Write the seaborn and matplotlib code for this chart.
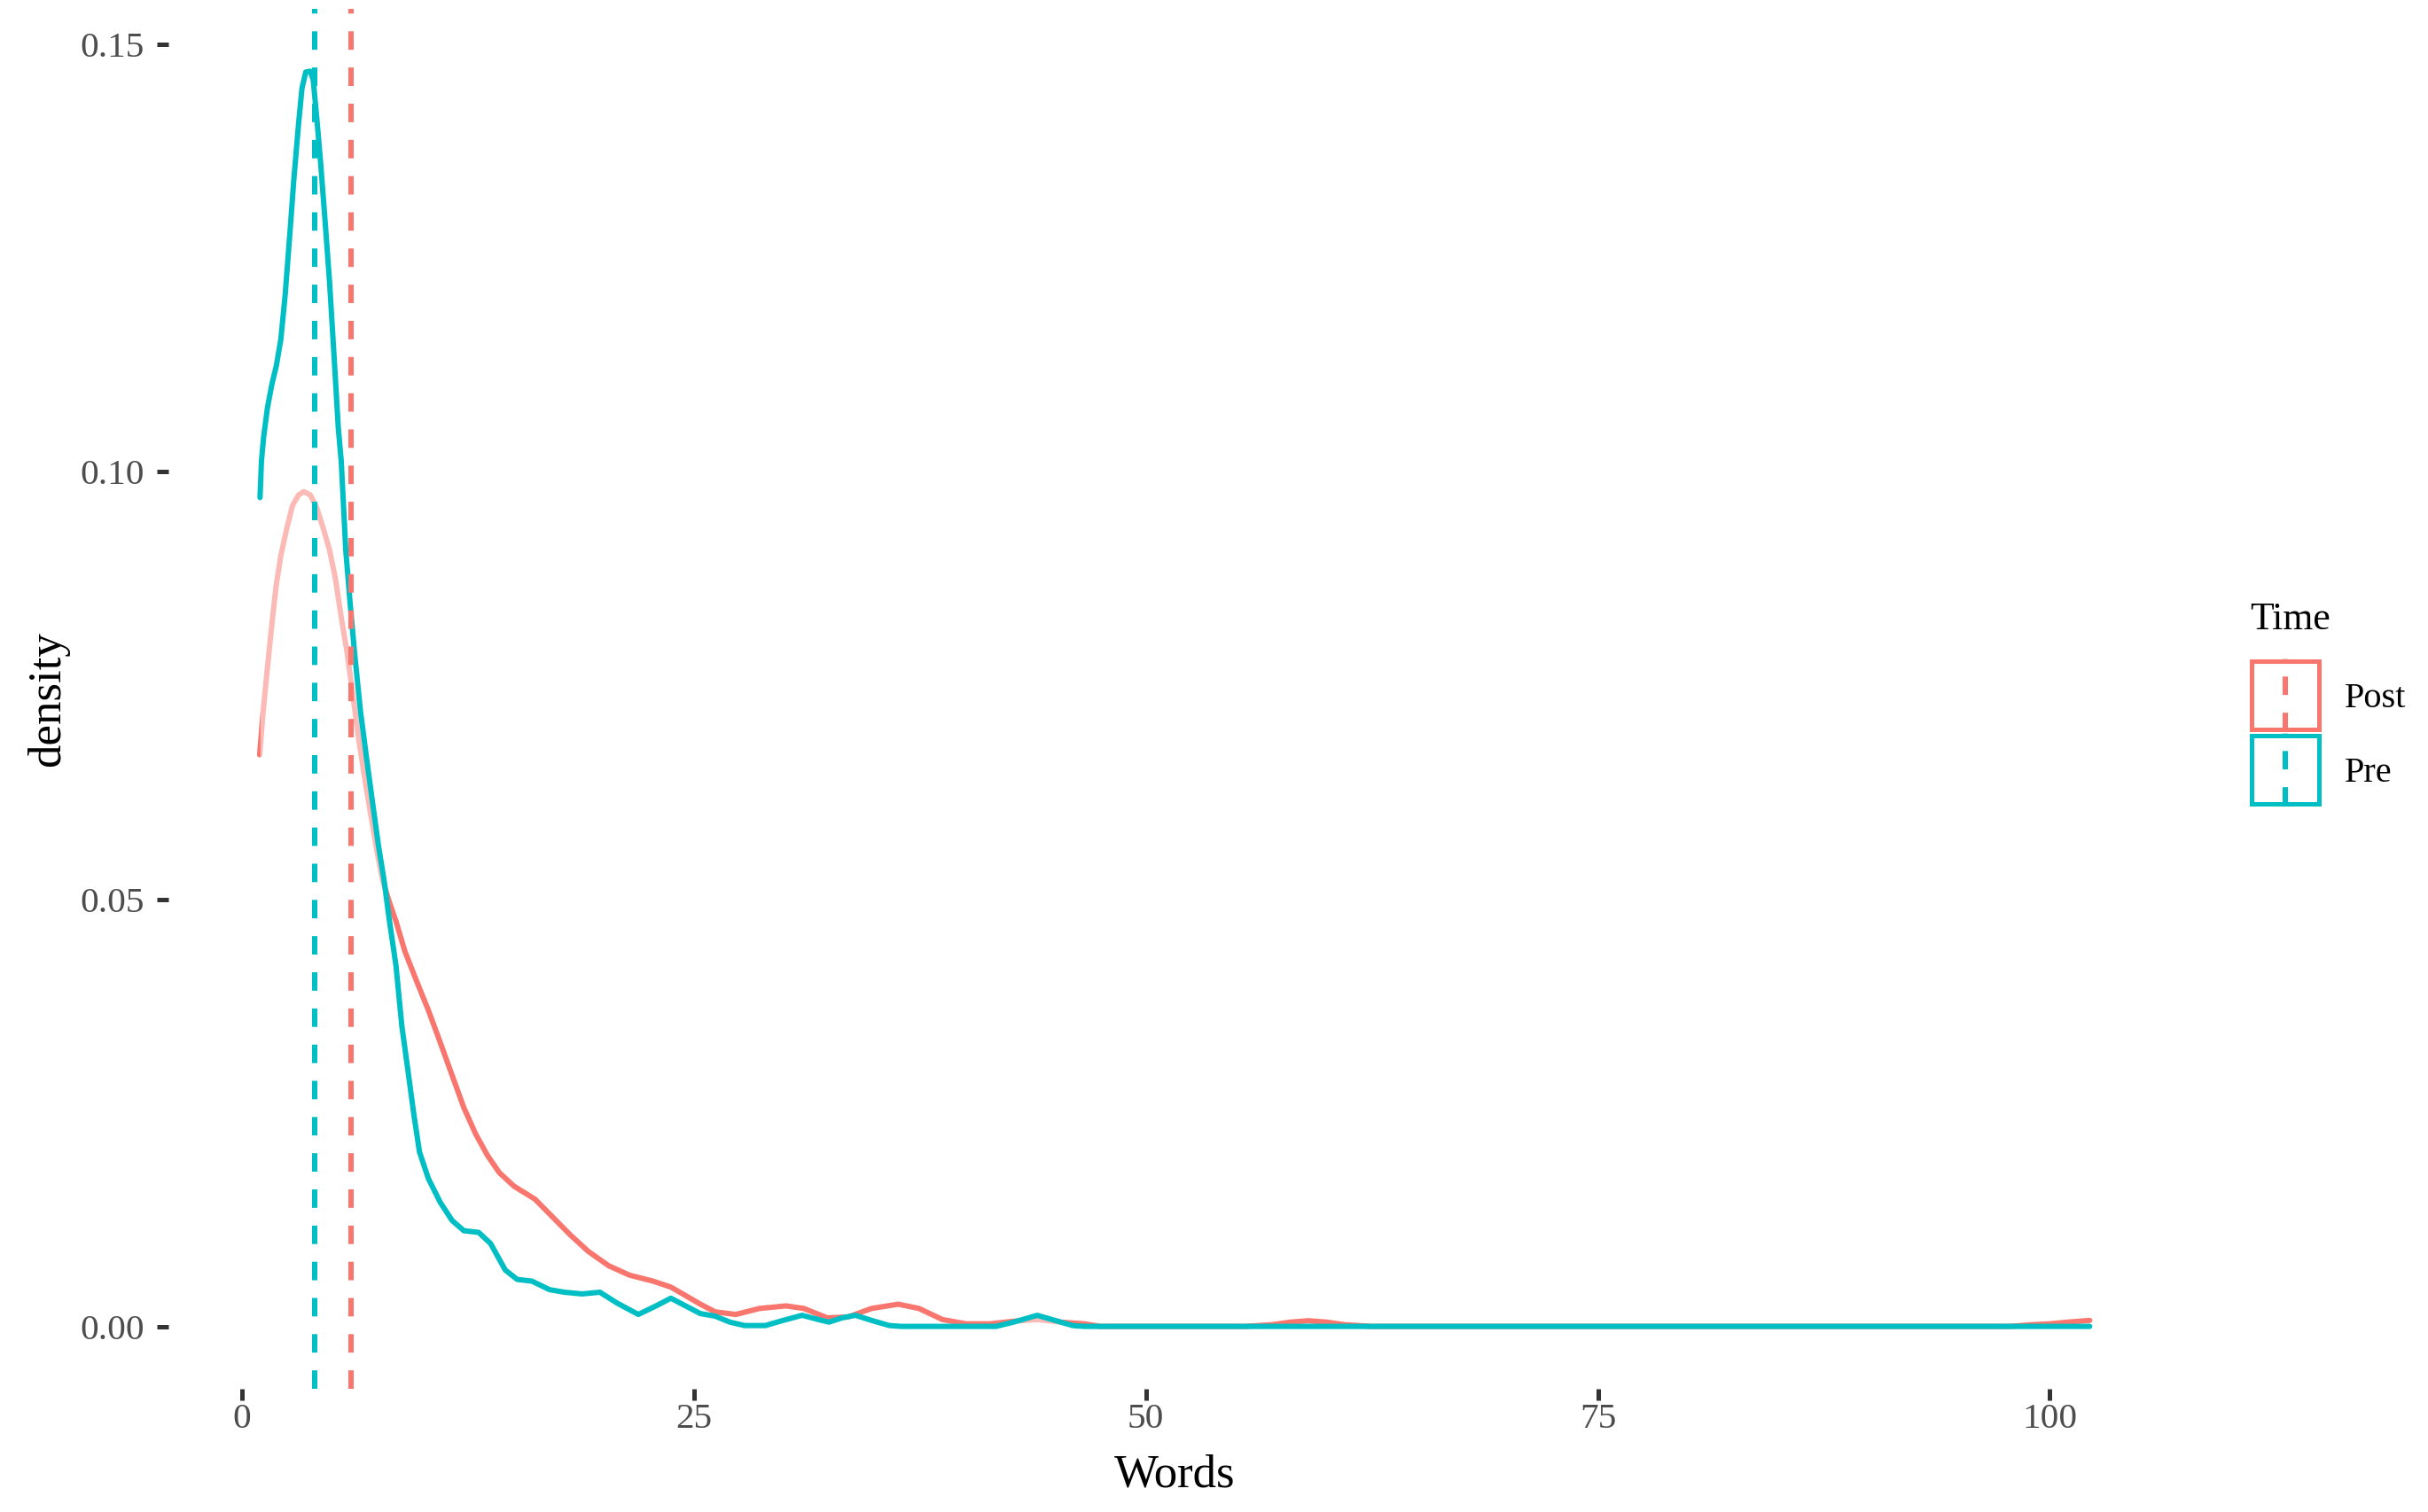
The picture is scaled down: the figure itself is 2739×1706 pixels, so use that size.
import numpy as np
import pandas as pd
import matplotlib
matplotlib.use("Agg")
import matplotlib.pyplot as plt
import seaborn as sns
from matplotlib.patches import Rectangle
from matplotlib.lines import Line2D

# ---------------- data ----------------
post_words = [1.0, 1.19, 1.43, 1.68, 1.92, 2.17, 2.49, 2.82, 3.15, 3.44, 3.80, 4.16, 4.53,
              4.86, 5.19, 5.51, 5.84, 6.17, 6.50, 6.82, 7.15, 7.48, 7.80, 8.21, 8.54, 9.03,
              9.68, 10.33, 10.99, 11.64, 12.29, 12.95, 13.60, 14.25, 15.07, 16.22, 17.20,
              18.18, 19.16, 20.30, 21.45, 22.75, 23.74, 24.72, 25.37, 26.19, 27.33, 28.64,
              30.11, 31.09, 32.39, 33.54, 34.84, 36.31, 37.46, 38.76, 40.07, 41.38, 42.69,
              44.0, 45.3, 46.61, 47.5, 55.5, 57.0, 58.0, 59.0, 60.0, 61.0, 62.5, 97.8,
              99.0, 100.0, 101.0, 102.2]
post_density = [0.0669, 0.0719, 0.0771, 0.0823, 0.0868, 0.0902, 0.0933, 0.0961, 0.0973,
                0.0977, 0.0973, 0.0958, 0.0933, 0.0909, 0.0875, 0.0830, 0.0788, 0.0736,
                0.0684, 0.0640, 0.0598, 0.0557, 0.0522, 0.0494, 0.0474, 0.0439, 0.0404,
                0.0370, 0.0332, 0.0294, 0.0256, 0.0225, 0.0200, 0.0180, 0.0164, 0.0149,
                0.0128, 0.0107, 0.0088, 0.0071, 0.0060, 0.0053, 0.0046, 0.0034, 0.0026,
                0.0017, 0.0014, 0.0021, 0.0024, 0.0021, 0.0010, 0.0011, 0.0021, 0.0026,
                0.0021, 0.0008, 0.0003, 0.0003, 0.0006, 0.0008, 0.0005, 0.0003, 0.0,
                0.0, 0.0002, 0.0005, 0.00066, 0.0005, 0.0002, 0.0, 0.0, 0.0002, 0.0003,
                0.0005, 0.0007]

pre_words = [1.02, 1.1, 1.22, 1.43, 1.68, 1.92, 2.17, 2.41, 2.66, 2.90, 3.15, 3.34, 3.55,
             3.80, 3.96, 4.16, 4.37, 4.62, 4.86, 5.11, 5.35, 5.51, 5.76, 6.00, 6.25, 6.58,
             6.90, 7.23, 7.56, 7.88, 8.18, 8.54, 8.86, 9.19, 9.52, 9.84, 10.33, 10.99,
             11.64, 12.29, 13.11, 13.77, 14.58, 15.24, 16.05, 17.03, 17.85, 18.83, 19.81,
             20.79, 21.94, 22.92, 23.74, 24.55, 25.37, 26.19, 27.00, 27.82, 28.96, 29.94,
             31.00, 31.90, 32.48, 33.21, 33.95, 34.84, 35.82, 36.48, 41.71, 42.69, 44.0,
             44.98, 45.96, 46.6, 102.2]
pre_density = [0.0970, 0.1013, 0.1041, 0.1075, 0.1103, 0.1124, 0.1155, 0.1207, 0.1276,
               0.1345, 0.1407, 0.1449, 0.1468, 0.1469, 0.1459, 0.1414, 0.1362, 0.1293,
               0.1224, 0.1137, 0.1051, 0.1013, 0.0909, 0.0847, 0.0788, 0.0719, 0.0667,
               0.0615, 0.0564, 0.0522, 0.0474, 0.0422, 0.0352, 0.0301, 0.0249, 0.0204,
               0.0173, 0.0145, 0.0124, 0.0112, 0.0110, 0.0097, 0.0066, 0.0055, 0.0053,
               0.0043, 0.0040, 0.0038, 0.0040, 0.0027, 0.0014, 0.0024, 0.0033, 0.0024,
               0.0015, 0.0012, 0.0005, 0.0001, 0.0001, 0.0007, 0.0013, 0.0008, 0.0005,
               0.0010, 0.0013, 0.0007, 0.0001, 0.0, 0.0, 0.0005, 0.0013, 0.0007, 0.0001,
               0.0, 0.0]

groups = ["Post", "Pre"]
group_means = [6.03, 4.02]
colors = {"Post": "#F8766D", "Pre": "#00BFC4"}
x_ticks = [0, 25, 50, 75, 100]
y_ticks = [0.00, 0.05, 0.10, 0.15]
y_tick_labels = ["0.00", "0.05", "0.10", "0.15"]

post_df = pd.DataFrame({"Words": post_words, "density": post_density, "Time": "Post"})
pre_df = pd.DataFrame({"Words": pre_words, "density": pre_density, "Time": "Pre"})

# ---------------- style ----------------
sns.set_theme(style="white")
plt.rcParams["font.family"] = ["Liberation Serif", "DejaVu Serif"]
plt.rcParams["lines.scale_dashes"] = False

W, H, DPI = 2739, 1706, 300
fig = plt.figure(figsize=(W / DPI, H / DPI), dpi=DPI)
fig.patch.set_facecolor("white")

def fx(px):
    return px / W

def fy(py):
    return 1 - py / H

ax = fig.add_axes([fx(189.7), fy(1567.4), fx(2460.6) - fx(189.7), fy(9.5) - fy(1567.4)])
ax.set_facecolor("white")

LW = 1.45
DASH = (0, (5.0, 4.8))

# Post: white semi-transparent fill, then line
ax.fill_between(post_df["Words"], post_df["density"], 0, color="white", alpha=0.5,
                lw=0, zorder=1)
sns.lineplot(data=post_df, x="Words", y="density", color=colors["Post"], lw=LW,
             sort=False, estimator=None, ax=ax, legend=False, zorder=2)
# Pre: fill (washes the Post line beneath it), then line
ax.fill_between(pre_df["Words"], pre_df["density"], 0, color="white", alpha=0.5,
                lw=0, zorder=3)
sns.lineplot(data=pre_df, x="Words", y="density", color=colors["Pre"], lw=LW,
             sort=False, estimator=None, ax=ax, legend=False, zorder=4)

for g, m in zip(groups, group_means):
    ax.axvline(m, color=colors[g], lw=LW, linestyle=DASH, zorder=5)

# limits with ggplot-like 5% expansion
all_x = np.array(post_words + pre_words)
all_y = np.array(post_density + pre_density)
xr = all_x.max() - all_x.min()
ax.set_xlim(all_x.min() - 0.05 * xr, all_x.max() + 0.05 * xr)
yr = all_y.max() - 0.0
ax.set_ylim(0 - 0.05 * yr, all_y.max() + 0.05 * yr)

ax.set_xticks(x_ticks)
ax.set_xticklabels([str(t) for t in x_ticks])
ax.set_yticks(y_ticks)
ax.set_yticklabels(y_tick_labels)
for s in ax.spines.values():
    s.set_visible(False)
ax.grid(False)
ax.tick_params(axis="both", which="major", length=3.1, width=1.2, color="#333333",
               labelcolor="#4D4D4D", labelsize=9.9, direction="out")
ax.tick_params(axis="y", pad=3.3, left=True)
ax.tick_params(axis="x", pad=0.6, bottom=True)
ax.set_xlabel("")
ax.set_ylabel("")

# axis titles
fig.text(fx(1325), fy(1677), "Words", ha="center", va="baseline", fontsize=12.7, color="black")
fig.text(fx(54), fy(789), "density", ha="center", va="center", rotation=90,
         fontsize=12.7, color="black")

# legend (drawn manually, ggplot style)
fig.text(fx(2538), fy(710.5), "Time", ha="left", va="baseline", fontsize=10.5, color="black")
key_tops = [743, 827]
key_h = 82
key_x0, key_w = 2537, 81
bw = 5  # border px
for g, top in zip(groups, key_tops):
    r = Rectangle((fx(key_x0 + bw / 2), fy(top + key_h - bw / 2)),
                  fx(key_w - bw), fy(0) - fy(key_h - bw),
                  transform=fig.transFigure, facecolor="white", edgecolor=colors[g],
                  lw=1.2, zorder=3)
    fig.add_artist(r)
    ln = Line2D([fx(2578), fx(2578)], [fy(top + key_h), fy(top)],
                transform=fig.transFigure, color=colors[g], lw=LW, linestyle=DASH, zorder=4)
    fig.add_artist(ln)
    fig.text(fx(2645), fy(top + key_h / 2 + 14), g, ha="left", va="baseline",
             fontsize=9.7, color="black")

fig.savefig("out.png", dpi=DPI, facecolor="white")
